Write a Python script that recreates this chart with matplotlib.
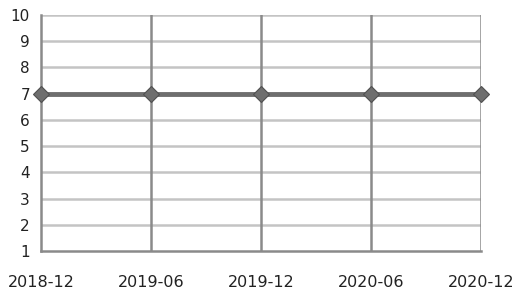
import matplotlib.pyplot as plt
import numpy as np

# данные
dates = ["2018-12", "2019-06", "2019-12", "2020-06", "2020-12"]
values = [7, 7, 7, 7, 7]
y_ticks = [1, 2, 3, 4, 5, 6, 7, 8, 9, 10]

fig = plt.figure(figsize=(5.16, 2.93), dpi=100)
ax = fig.add_axes([41 / 516, 1 - 251 / 293, 440 / 516, 236 / 293])

x = np.arange(len(dates))

# сетка
for yv in y_ticks[1:]:
    ax.axhline(yv, color="#c4c4c4", lw=1.8, zorder=1)
for xv in x[1:]:
    ax.axvline(xv, color="#8a8a8a", lw=1.8, zorder=1)

ax.plot(x, values, color="#6e6e6e", lw=3.5, marker="D", markersize=8,
        markerfacecolor="#6e6e6e", markeredgecolor="#505050", markeredgewidth=0.8,
        zorder=3, clip_on=False)

ax.set_xlim(0, len(dates) - 1)
ax.set_ylim(1, 10)
ax.set_xticks(x)
ax.set_xticklabels(dates)
ax.set_yticks(y_ticks)

for side in ["top", "right"]:
    ax.spines[side].set_visible(False)
for side in ["left", "bottom"]:
    ax.spines[side].set_color("#8a8a8a")
    ax.spines[side].set_linewidth(1.8)

ax.tick_params(axis="both", length=0, colors="#222222")
ax.tick_params(axis="x", pad=17.5, labelsize=11.5)
ax.tick_params(axis="y", pad=8, labelsize=11)

fig.savefig("out.png", dpi=100)
